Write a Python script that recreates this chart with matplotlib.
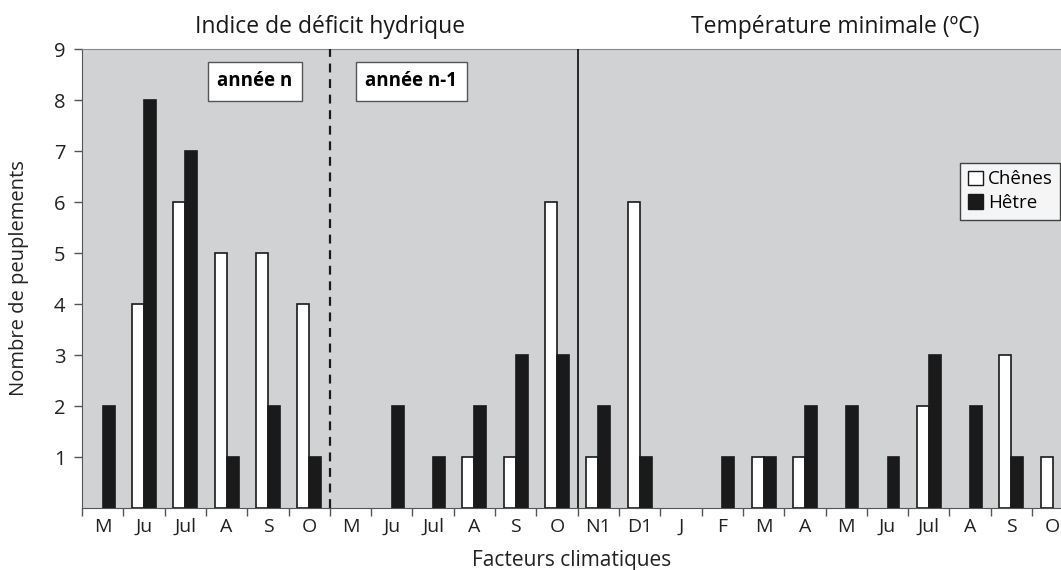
import numpy as np
import matplotlib.pyplot as plt
from matplotlib.patches import Patch

plt.rcParams['font.family'] = ['Open Sans', 'DejaVu Sans']

# data
categories = ['M', 'Ju', 'Jul', 'A', 'S', 'O',
              'M', 'Ju', 'Jul', 'A', 'S', 'O',
              'N1', 'D1', 'J', 'F', 'M', 'A', 'M', 'Ju', 'Jul', 'A', 'S', 'O']
chenes = [0, 4, 6, 5, 5, 4,
          0, 0, 0, 1, 1, 6,
          1, 6, 0, 0, 1, 1, 0, 0, 2, 0, 3, 1]
hetre = [2, 8, 7, 1, 2, 1,
         0, 2, 1, 2, 3, 3,
         2, 1, 0, 1, 1, 2, 2, 1, 3, 2, 1, 0]

bg = '#d0d2d4'
bar_w = 0.29

fig = plt.figure(figsize=(10.61, 5.70), dpi=100)
ax = fig.add_axes([0.0773, 0.1088, 0.9227, 0.805])
ax.set_facecolor(bg)

x = np.arange(len(categories)) + 0.5
c = np.array(chenes)
h = np.array(hetre)
# no bar drawn where the count is zero
ax.bar((x - 0.145)[c > 0], c[c > 0], width=bar_w, color='white', edgecolor='#1a1a1a', linewidth=1.2, zorder=3)
ax.bar((x + 0.145)[h > 0], h[h > 0], width=bar_w, color='#1a1a1a', edgecolor='#1a1a1a', linewidth=1.2, zorder=3)

ax.set_xlim(0, 23.7)
ax.set_ylim(0, 9)

# x ticks at category boundaries, labels at centres
ax.set_xticks(np.arange(0, 24), minor=False)
ax.set_xticklabels([])
ax.set_xticks(x, minor=True)
ax.set_xticklabels(categories, minor=True, fontsize=14, color='#222222')
ax.tick_params(axis='x', which='minor', length=0, pad=7)
ax.tick_params(axis='x', which='major', length=6, width=1, color='#555555', direction='out')

ax.set_yticks(range(1, 10))
ax.set_yticklabels([str(v) for v in range(1, 10)], fontsize=14.5, color='#222222')
ax.tick_params(axis='y', length=6, width=1, color='#555555', direction='out', pad=6)

ax.spines['right'].set_visible(False)
ax.spines['top'].set_color('#888888')
ax.spines['left'].set_color('#555555')
ax.spines['bottom'].set_color('#555555')

# separators
ax.axvline(6, color='#1a1a1a', linestyle=(0, (4, 3)), linewidth=1.6, zorder=4)
ax.axvline(12, color='#1a1a1a', linestyle='-', linewidth=1.3, zorder=4)

# section titles
ax.text(6, 9.2, 'Indice de déficit hydrique', ha='center', va='bottom', fontsize=16.5, color='#1a1a1a')
ax.text(18.23, 9.2, 'Température minimale (ºC)', ha='center', va='bottom', fontsize=16.5, color='#1a1a1a')

ax.text(4.18, 8.37, 'année n', ha='center', va='center', fontsize=13.5, fontweight='bold',
        bbox=dict(boxstyle='square,pad=0.5', facecolor='white', edgecolor='#555555', linewidth=1), zorder=5)
ax.text(7.97, 8.37, 'année n-1', ha='center', va='center', fontsize=13.5, fontweight='bold',
        bbox=dict(boxstyle='square,pad=0.5', facecolor='white', edgecolor='#555555', linewidth=1), zorder=5)

handles = [Patch(facecolor='white', edgecolor='#1a1a1a', label='Chênes'),
           Patch(facecolor='#1a1a1a', edgecolor='#1a1a1a', label='Hêtre')]
leg = ax.legend(handles=handles, loc='upper right', bbox_to_anchor=(0.999, 0.752),
                fontsize=13.5, frameon=True, fancybox=False, edgecolor='#1a1a1a',
                handlelength=0.8, handleheight=0.8, handletextpad=0.25,
                borderpad=0.4, labelspacing=0.3, borderaxespad=0)
leg.get_frame().set_linewidth(1)

ax.set_ylabel('Nombre de peuplements', fontsize=14.5, color='#222222', labelpad=18)
ax.set_xlabel('Facteurs climatiques', fontsize=15, color='#222222', labelpad=10)

fig.savefig('out.png', dpi=100)
